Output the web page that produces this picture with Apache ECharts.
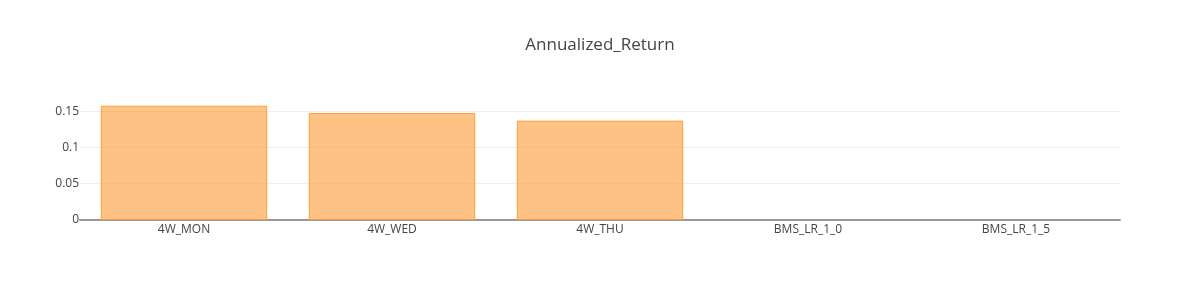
<!DOCTYPE html>
<html>
<head>
<meta charset="utf-8">
<script src="https://cdn.jsdelivr.net/npm/echarts@6/dist/echarts.min.js"></script>
<style>
html,body{margin:0;padding:0;background:#fff;}
#chart{width:1200px;height:300px;}
</style>
</head>
<body>
<div id="chart"></div>
<script>
const categories = ['4W_MON', '4W_WED', '4W_THU', 'BMS_LR_1_0', 'BMS_LR_1_5'];
const annualizedReturn = [0.1575, 0.1475, 0.137, 0, 0];
const yTicks = [0.05, 0.1, 0.15];
const chartTitle = 'Annualized_Return';

const chart = echarts.init(document.getElementById('chart'));
const font = '"Open Sans", sans-serif';
chart.setOption({
  animation: false,
  backgroundColor: '#fff',
  title: {
    text: chartTitle,
    left: 'center',
    top: 32,
    textStyle: { fontFamily: font, fontSize: 17, fontWeight: 'normal', color: '#444' }
  },
  grid: { left: 80, right: 80, top: 100, bottom: 80 },
  xAxis: {
    type: 'category',
    data: categories,
    axisLine: { show: true, lineStyle: { color: '#999', width: 2 } },
    axisTick: { show: false },
    axisLabel: { fontFamily: font, fontSize: 12, color: '#444', margin: 4 },
    splitLine: { show: false }
  },
  yAxis: {
    type: 'value',
    min: 0,
    max: 0.1654,
    interval: 0.05,
    axisLine: { show: false },
    axisTick: { show: false },
    splitLine: { show: false },
    axisLabel: {
      fontFamily: font, fontSize: 12, color: '#444', margin: 1,
      showMaxLabel: false,
      formatter: v => (Math.abs(v - 0.1654) < 1e-6 ? '' : String(+v.toFixed(4)))
    }
  },
  series: [{
    type: 'line',
    data: [],
    silent: true,
    z: 0,
    markLine: {
      silent: true,
      symbol: 'none',
      z: 0,
      label: { show: false },
      lineStyle: { color: '#eee', width: 1, type: 'solid' },
      data: yTicks.map(v => ({ yAxis: v }))
    }
  }, {
    type: 'bar',
    data: annualizedReturn.map(v => ({
      value: v,
      itemStyle: v === 0 ? { borderWidth: 0 } : {}
    })),
    barCategoryGap: '20%',
    itemStyle: { color: 'rgba(255,153,51,0.6)', borderColor: 'rgba(255,153,51,0.9)', borderWidth: 1 },
    z: 3
  }]
});
</script>
</body>
</html>
